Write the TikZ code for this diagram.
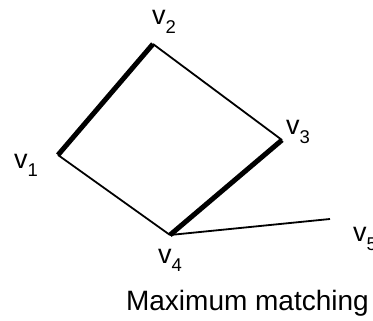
\documentclass[tikz,border=0pt]{standalone}
\usepackage{fontspec}
\setmainfont{Liberation Sans}
\newcommand{\vlab}[1]{v\raisebox{-0.3em}{\fontsize{18.5}{18.5}\selectfont #1}}

\begin{document}
\begin{tikzpicture}[x=1pt,y=-1pt,
  edge/.style={line width=1.8pt},
  matched/.style={line width=5pt},
  lab/.style={font=\fontsize{27}{27}\selectfont,inner sep=0pt,anchor=base west}]
  \useasboundingbox (0,0) rectangle (373,321);
  \coordinate (v1) at (58,155);
  \coordinate (v2) at (153,44);
  \coordinate (v3) at (282,140);
  \coordinate (v4) at (170,235);
  \coordinate (v5) at (330,219);
  % matching edges
  \draw[matched] (v1) -- (v2);
  \draw[matched] (v3) -- (v4);
  % other edges
  \draw[edge] (v2) -- (v3);
  \draw[edge] (v1) -- (v4);
  \draw[edge] (v4) -- (v5);
  \node[lab] (l1) at (14,168) {\vlab{1}};
  \node[lab] (l2) at (152,25) {\vlab{2}};
  \node[lab] (l3) at (286,135) {\vlab{3}};
  \node[lab] (l4) at (158,263) {\vlab{4}};
  \node[lab] (l5) at (353,242) {\vlab{5}};
  \node[font=\fontsize{28}{28}\selectfont,inner sep=0pt,anchor=base east] (cap) at (369,310) {Maximum matching};
\end{tikzpicture}
\end{document}
